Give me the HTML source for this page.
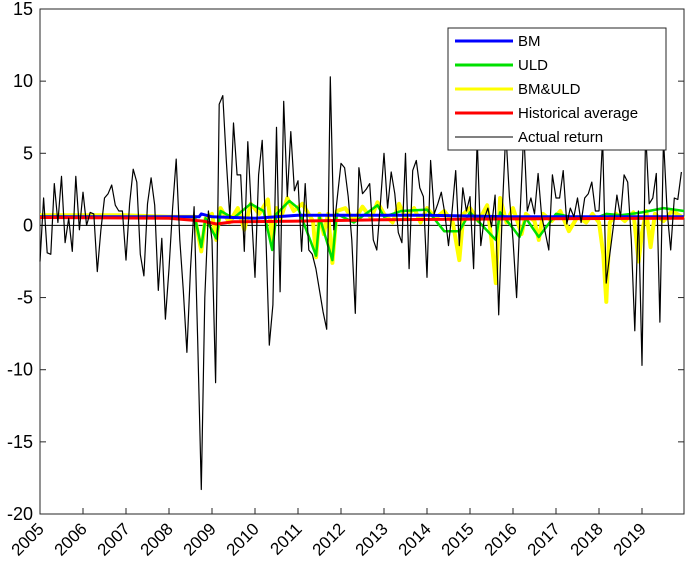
<!DOCTYPE html>
<html><head><meta charset="utf-8"><style>
body{margin:0;background:#fff;}
svg{display:block;font-family:"Liberation Sans",Arial,sans-serif;}
</style></head><body>
<svg id="chart" width="685" height="571" viewBox="0 0 685 571"></svg>
<script>
const yTicks=[15,10,5,0,-5,-10,-15,-20];
const yearLabels=["2005","2006","2007","2008","2009","2010","2011","2012","2013","2014","2015","2016","2017","2018","2019"];
const actualReturn=[-2.5,1.9,-1.9,-2.0,2.9,0.2,3.4,-1.2,0.5,-1.8,3.4,-0.3,
2.3,0.0,0.9,0.8,-3.2,-0.3,1.9,2.2,2.8,1.4,1.0,1.0,
-2.4,1.5,3.9,3.0,-2.0,-3.5,1.5,3.3,1.4,-4.5,-0.9,-6.5,
-3.0,1.2,4.6,-1.0,-4.5,-8.8,-3.0,1.3,-8.0,-18.3,-5.0,1.0,
-1.0,-10.9,8.4,9.0,4.5,0.5,7.1,3.5,3.5,-1.8,5.8,1.0,
-3.6,3.5,5.9,-0.5,-8.3,-5.5,6.8,-4.6,8.6,2.0,6.5,2.4,
3.1,-1.8,2.9,-1.7,-2.0,-3.0,-4.5,-6.0,-7.2,10.3,-0.3,2.0,
4.3,4.0,2.0,-1.0,-6.1,4.0,2.2,2.5,2.9,-1.0,-1.7,1.5,
5.0,1.2,3.7,2.2,-0.5,-1.2,5.0,-3.0,3.8,4.5,2.6,2.0,
-3.6,4.5,0.8,1.5,2.3,0.8,-1.4,1.0,3.8,-1.4,2.6,1.0,
2.0,-3.0,6.0,-1.4,0.5,1.2,-0.1,2.1,-6.2,1.0,6.5,2.0,
-1.0,-5.0,1.0,6.5,1.0,1.9,0.8,3.6,0.6,-0.5,-1.7,3.5,
1.9,1.9,3.8,0.1,1.2,0.6,1.9,0.2,1.9,2.2,3.0,1.0,
1.0,6.0,-4.0,-2.0,-0.1,2.1,0.6,3.5,3.0,-1.0,-7.3,1.0,
-9.7,6.5,1.5,1.9,3.6,-6.7,6.0,1.0,-1.7,1.9,1.8,3.7];
const yellowDates=[2005.0,2007.0,2008.0,2008.6,2008.75,2008.85,2009.0,2009.1,2009.2,2009.4,2009.6,2009.75,2009.9,2010.1,2010.3,2010.4,2010.5,2010.6,2010.75,2010.9,2011.1,2011.35,2011.42,2011.5,2011.6,2011.7,2011.8,2011.9,2012.1,2012.3,2012.5,2012.7,2012.85,2013.0,2013.2,2013.35,2013.5,2013.7,2013.85,2014.0,2014.2,2014.4,2014.6,2014.75,2014.85,2015.0,2015.2,2015.4,2015.5,2015.6,2015.7,2015.85,2016.0,2016.2,2016.3,2016.5,2016.6,2016.7,2016.9,2017.1,2017.3,2017.5,2017.7,2017.85,2018.0,2018.1,2018.17,2018.25,2018.4,2018.6,2018.8,2018.92,2019.0,2019.1,2019.2,2019.3,2019.5,2019.7,2019.98];
const yellowValues=[0.7,0.7,0.6,0.6,-1.8,0.5,0.8,-1.0,1.2,0.2,1.2,-0.3,1.5,0.8,1.8,-1.0,1.2,0.5,1.9,1.0,1.5,0.3,-2.2,0.8,-0.6,0.8,-2.6,1.0,1.2,0.3,1.3,0.5,1.6,0.8,0.2,1.5,0.5,1.2,0.2,1.2,0.5,1.0,0.2,-2.4,0.8,1.2,0.3,1.4,-1.0,-4.0,1.9,0.2,1.2,-0.6,0.8,0.3,-1.0,0.8,0.3,1.0,-0.4,0.6,0.2,0.8,0.2,-2.0,-5.3,0.2,0.8,0.3,0.9,-2.5,-0.5,1.0,-1.5,0.8,0.3,1.0,0.5];
const greenDates=[2005.0,2008.6,2008.75,2008.85,2009.1,2009.2,2009.5,2009.9,2010.2,2010.4,2010.5,2010.8,2011.0,2011.42,2011.5,2011.8,2011.9,2012.3,2012.85,2013.0,2013.4,2014.0,2014.4,2014.75,2015.0,2015.6,2015.7,2016.0,2016.15,2016.3,2016.6,2017.0,2017.5,2018.0,2018.17,2018.5,2019.0,2019.5,2019.98];
const greenValues=[0.6,0.6,-1.5,0.5,-0.9,1.0,0.5,1.5,1.0,-1.7,0.8,1.7,1.2,-2.1,0.6,-2.4,0.8,0.2,1.4,0.6,1.0,1.1,-0.4,-0.4,0.9,-1.0,0.9,-0.2,-0.8,0.5,-0.8,0.8,0.5,0.6,0.8,0.7,0.9,1.2,1.0];
const blueDates=[2005.0,2008.7,2008.75,2009.0,2010.0,2011.0,2014.0,2016.0,2017.5,2019.98];
const blueValues=[0.6,0.6,0.8,0.6,0.5,0.7,0.7,0.6,0.6,0.6];
const redDates=[2005.0,2008.0,2008.8,2009.1,2009.5,2011.0,2013.0,2016.0,2019.98];
const redValues=[0.55,0.5,0.3,0.1,0.25,0.3,0.4,0.45,0.5];

const svg=document.getElementById('chart');
const NS='http://www.w3.org/2000/svg';
const L=40,R=684,T=9,B=514;
const X=t=>L+(t-2005)*43;
const Y=v=>T+(15-v)*(B-T)/35;
function mk(tag,attrs,parent){const e=document.createElementNS(NS,tag);for(const k in attrs)e.setAttribute(k,attrs[k]);(parent||svg).appendChild(e);return e;}

const frame=mk('rect',{x:L,y:T,width:R-L,height:B-T,fill:'#fff',stroke:'#262626','stroke-width':1});



yTicks.forEach(v=>{
  const y=Y(v);
  const t1=mk('line',{x1:L,x2:L+6,y1:y,y2:y,stroke:'#262626'});
  
  
  const t2=mk('line',{x1:R-6,x2:R,y1:y,y2:y,stroke:'#262626'});
  
  
  const lb=mk('text',{x:L-7,y:y+6,'text-anchor':'end','font-size':18,fill:'#000'});
  lb.textContent=v;
  
  
});
yearLabels.forEach((s,i)=>{
  const x=X(2005+i);
  const tk=mk('line',{x1:x,x2:x,y1:B,y2:B-6,stroke:'#262626'});
  
  
  const lb=mk('text',{x:x+5,y:B+16,'text-anchor':'end','font-size':17,fill:'#000',transform:`rotate(-45 ${x+5} ${B+16})`});
  lb.textContent=s;
  
  
});
const zl=mk('line',{x1:L,x2:R,y1:Y(0),y2:Y(0),stroke:'#000','stroke-width':1});



function poly(dates,vals,color,w,name){
  const p=mk('polyline',{points:vals.map((v,i)=>X(dates[i]).toFixed(1)+','+Y(v).toFixed(1)).join(' '),fill:'none',stroke:color,'stroke-width':w,'stroke-linejoin':'round'});
  
  
}
poly(yellowDates,yellowValues,'#ffff00',4,'bm-uld-series');
poly(greenDates,greenValues,'#00e000',2.5,'uld-series');
poly(blueDates,blueValues,'#0000ff',3,'bm-series');
poly(redDates,redValues,'#ff0000',3,'historical-average-series');
const actDates=actualReturn.map((v,i)=>2005+i/12);
poly(actDates,actualReturn,'#000',1.2,'actual-return-series');

const lg=mk('g',{});


const box=mk('rect',{x:448,y:28,width:218,height:122,fill:'#fff',stroke:'#262626'},lg);


const items=[['BM','#0000ff',3],['ULD','#00e000',3],['BM&ULD','#ffff00',3],['Historical average','#ff0000',3],['Actual return','#000',1]];
items.forEach((it,i)=>{
  const y=41+i*24;
  const ln=mk('line',{x1:455,x2:513,y1:y,y2:y,stroke:it[1],'stroke-width':it[2]},lg);
  
  
  const tx=mk('text',{x:518,y:y+5,'font-size':15,fill:'#000'},lg);
  tx.textContent=it[0];
  
  
});
</script>
</body></html>
